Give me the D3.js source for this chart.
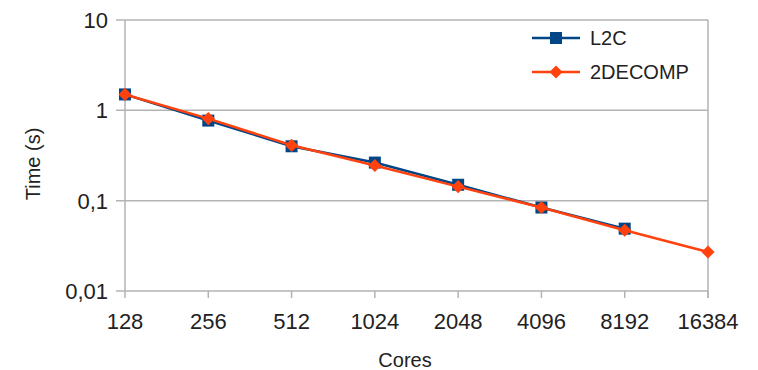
<!DOCTYPE html>
<html>
<head>
<meta charset="utf-8">
<script src="https://cdn.jsdelivr.net/npm/d3@7"></script>
<style>
  body { margin: 0; background: #fff; }
  text { font-family: "Liberation Sans", Arial, sans-serif; fill: #222; }
</style>
</head>
<body>
<svg id="chart" width="758" height="370"></svg>
<script>
// chart data
const cores = ["128", "256", "512", "1024", "2048", "4096", "8192", "16384"];
const l2c = [1.5, 0.77, 0.40, 0.264, 0.15, 0.084, 0.049];
const decomp = [1.5, 0.81, 0.41, 0.245, 0.143, 0.084, 0.047, 0.027];
const yTicks = [10, 1, 0.1, 0.01];
const yTickLabels = ["10", "1", "0,1", "0,01"];

const margin = {top: 20, right: 50, bottom: 79, left: 125};
const width = 758, height = 370;
const svg = d3.select("#chart");
const g = svg.append("g").attr("transform", "translate(" + margin.left + "," + margin.top + ")");
const w = width - margin.left - margin.right;
const h = height - margin.top - margin.bottom;

const x = d3.scalePoint().domain(cores).range([0, w]);
const y = d3.scaleLog().domain([0.01, 10]).range([h, 0]);

// grid
g.selectAll(".grid").data(yTicks).enter().append("line")
    .attr("x1", -9).attr("x2", w)
    .attr("y1", d => y(d)).attr("y2", d => y(d))
    .attr("stroke", "#b3b3b3").attr("stroke-width", 1.5);
g.append("line").attr("x1", w).attr("x2", w).attr("y1", 0).attr("y2", h + 7)
    .attr("stroke", "#b3b3b3").attr("stroke-width", 1.5);
g.append("line").attr("x1", 0).attr("x2", 0).attr("y1", 0).attr("y2", h)
    .attr("stroke", "#b3b3b3").attr("stroke-width", 1.5);

// x ticks
g.selectAll(".xt").data(cores).enter().append("line")
    .attr("x1", d => x(d)).attr("x2", d => x(d))
    .attr("y1", h).attr("y2", h + 7)
    .attr("stroke", "#b3b3b3").attr("stroke-width", 1.5);
g.selectAll(".xl").data(cores).enter().append("text")
    .attr("x", d => x(d)).attr("y", h + 38)
    .attr("text-anchor", "middle").attr("font-size", 22)
    .text(d => d);

g.selectAll(".yl").data(yTicks).enter().append("text")
    .attr("x", -17).attr("y", d => y(d) + 8)
    .attr("text-anchor", "end").attr("font-size", 22)
    .text((d, i) => yTickLabels[i]);

// axis titles
svg.append("text").attr("x", 405).attr("y", 367)
    .attr("text-anchor", "middle").attr("font-size", 20).text("Cores");
svg.append("text").attr("transform", "translate(40,164) rotate(-90)")
    .attr("text-anchor", "middle").attr("font-size", 20).text("Time (s)");

const line = d3.line().x((d, i) => x(cores[i])).y(d => y(d));

// L2C
g.append("path").datum(l2c).attr("d", line)
    .attr("fill", "none").attr("stroke", "#004586").attr("stroke-width", 2.5);
g.selectAll(".sq").data(l2c).enter().append("rect")
    .attr("x", (d, i) => x(cores[i]) - 6).attr("y", d => y(d) - 6)
    .attr("width", 12).attr("height", 12).attr("fill", "#004586");

// 2DECOMP
g.append("path").datum(decomp).attr("d", line)
    .attr("fill", "none").attr("stroke", "#ff420e").attr("stroke-width", 2.5);
const dia = d3.symbol().type(d3.symbolDiamond2).size(110);
g.selectAll(".dm").data(decomp).enter().append("path")
    .attr("transform", (d, i) => "translate(" + x(cores[i]) + "," + y(d) + ")")
    .attr("d", dia).attr("fill", "#ff420e");

// legend
const legend = [
  {name: "L2C", color: "#004586", shape: "sq"},
  {name: "2DECOMP", color: "#ff420e", shape: "dm"}
];
const lg = svg.selectAll(".lg").data(legend).enter().append("g")
    .attr("transform", (d, i) => "translate(532," + (38 + i * 34) + ")");
lg.append("line").attr("x1", 0).attr("x2", 48)
    .attr("stroke", d => d.color).attr("stroke-width", 2.5);
lg.each(function(d) {
  const s = d3.select(this);
  if (d.shape == "sq") {
    s.append("rect").attr("x", 18).attr("y", -6).attr("width", 12).attr("height", 12).attr("fill", d.color);
  } else {
    s.append("path").attr("transform", "translate(24,0)").attr("d", dia).attr("fill", d.color);
  }
});
lg.append("text").attr("x", 58).attr("y", 7).attr("font-size", 20).text(d => d.name);
</script>
</body>
</html>
